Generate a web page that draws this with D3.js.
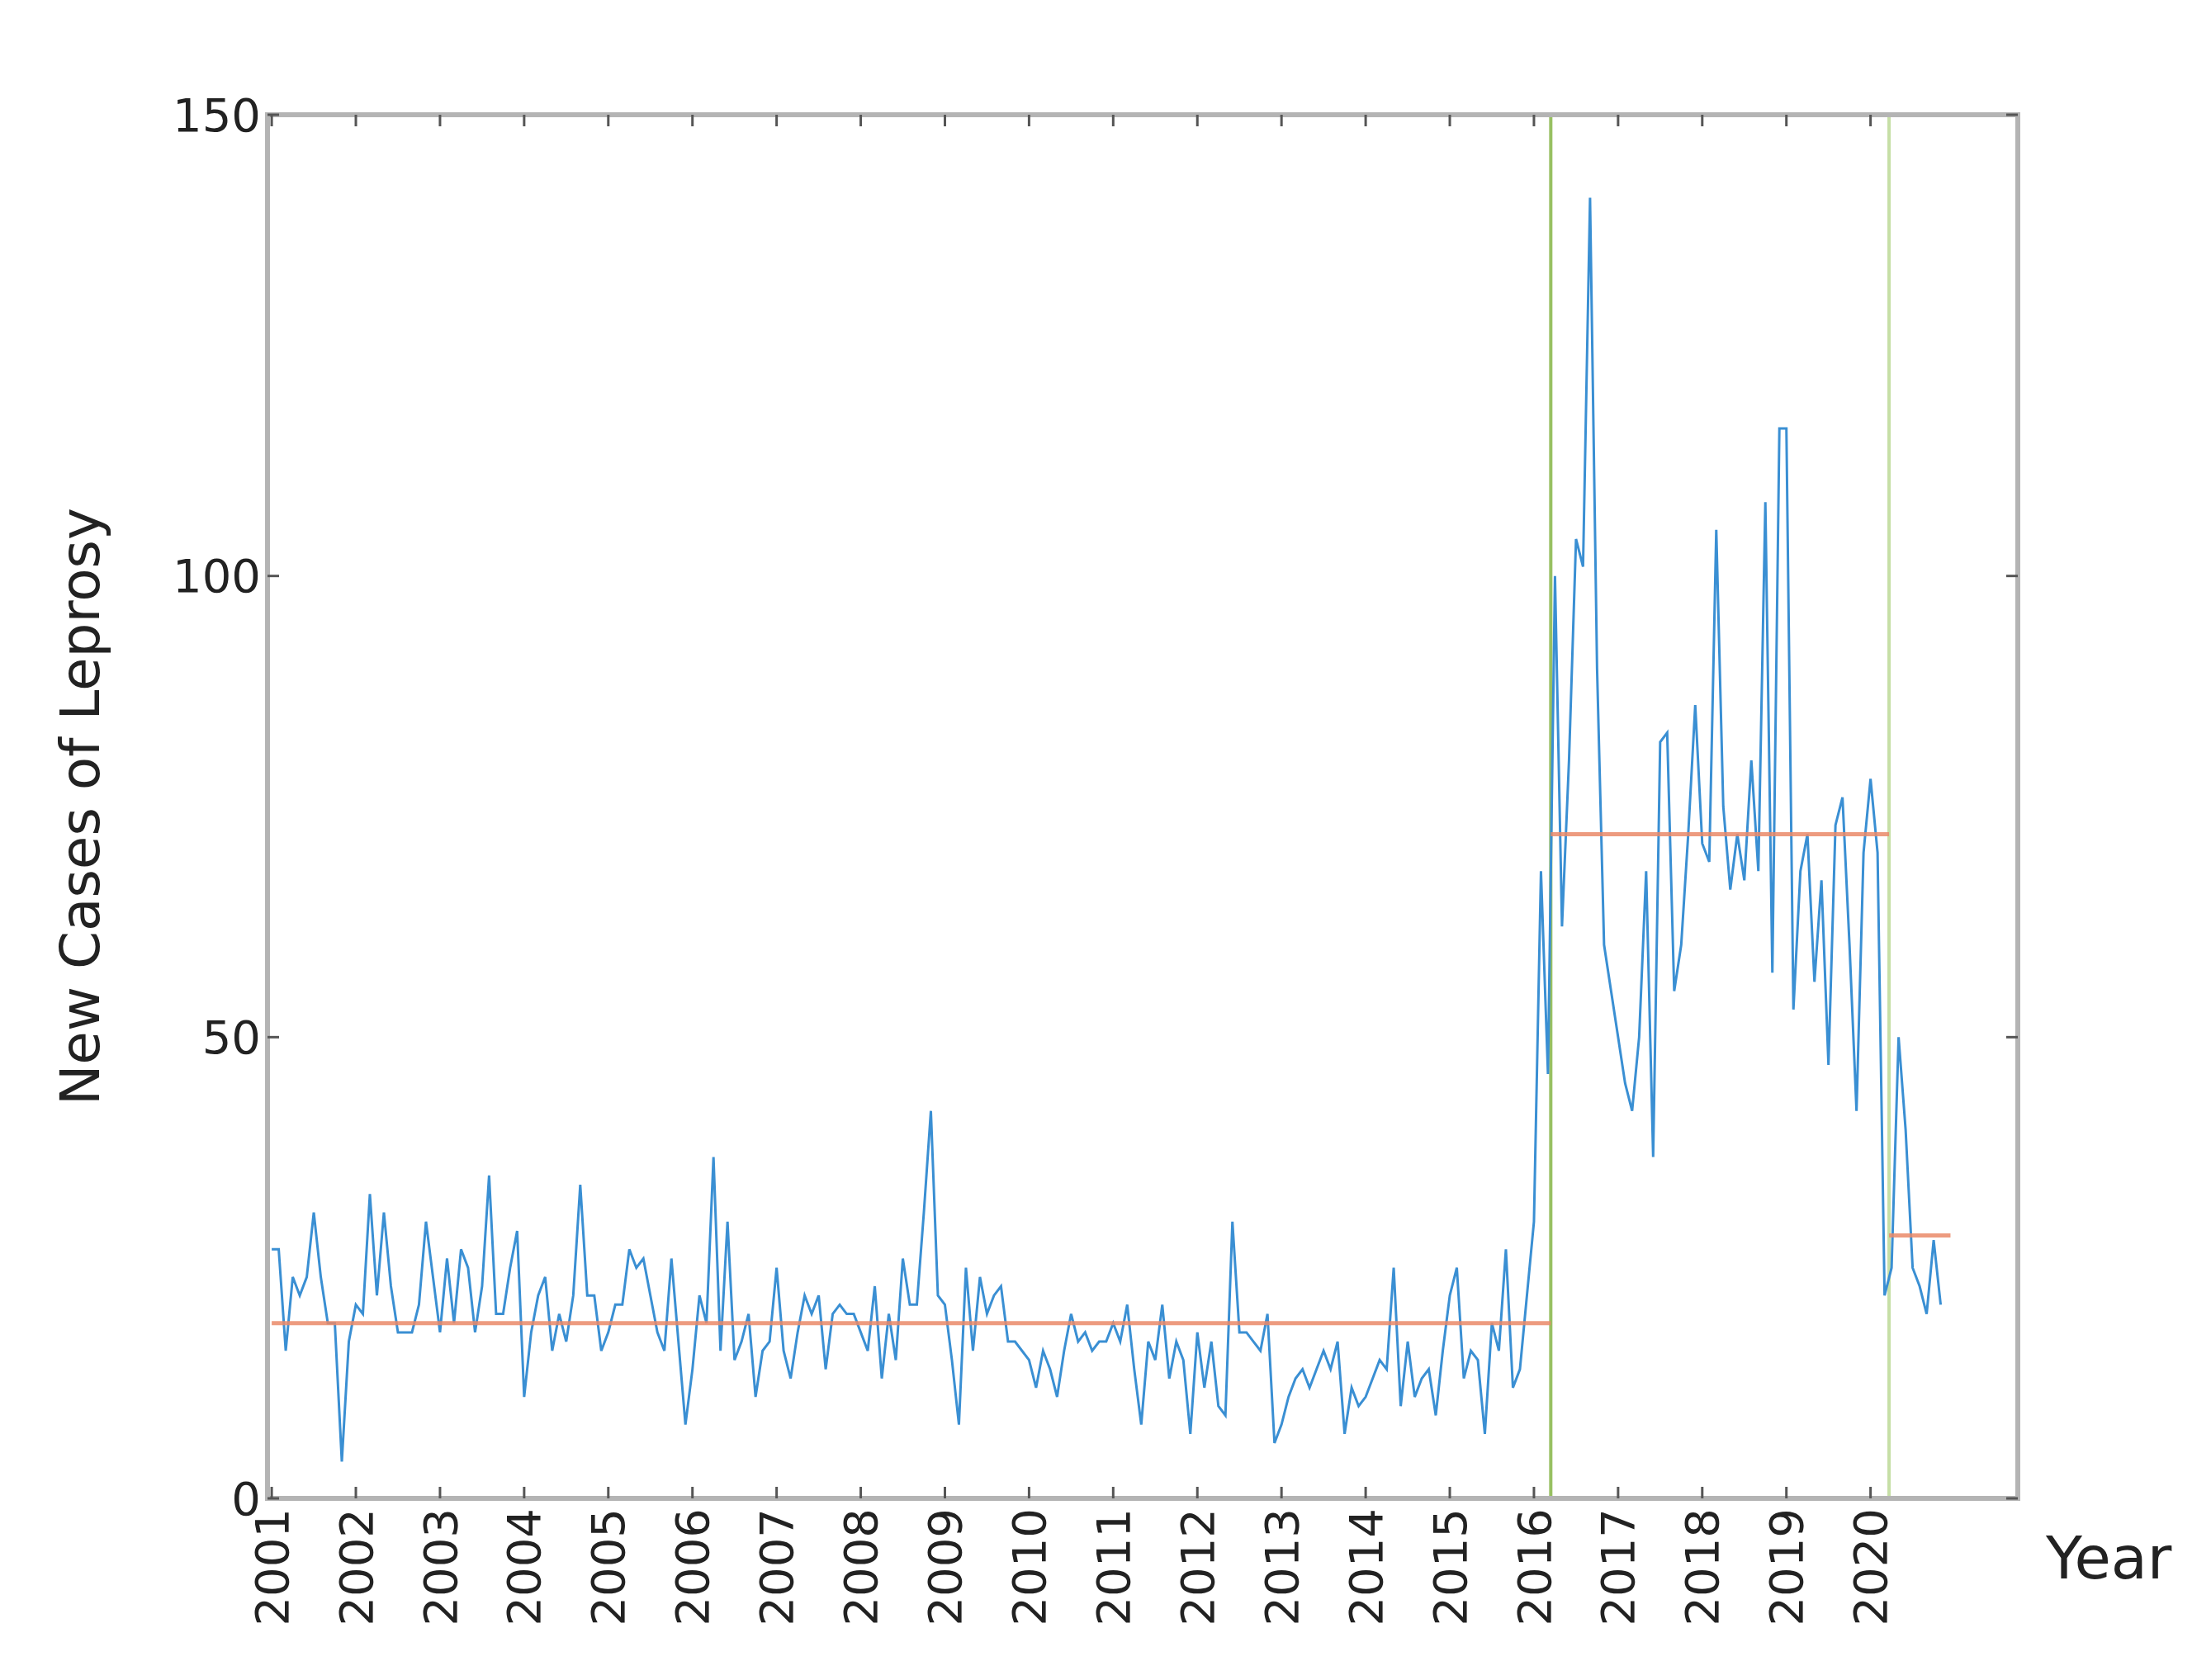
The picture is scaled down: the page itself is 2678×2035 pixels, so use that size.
<!DOCTYPE html>
<html>
<head>
<meta charset="utf-8">
<script src="https://cdn.jsdelivr.net/npm/d3@7"></script>
<style>
  body { margin: 0; background: #fff; }
  text { font-family: "DejaVu Sans", sans-serif; fill: #222; }
</style>
</head>
<body>
<svg id="chart"></svg>
<script>
// monthly new cases, Jan 2001 .. Nov 2020
var cases2001to2015 = [
  27,27,16,24,22,24,31,24,19,19,4,17,
  21,20,33,22,31,23,18,18,18,21,30,24,
  18,26,19,27,25,18,23,35,20,20,25,29,
  11,18,22,24,16,20,17,22,34,22,22,16,
  18,21,21,27,25,26,22,18,16,26,17,8,
  14,22,19,37,16,30,15,17,20,11,16,17,
  25,16,13,18,22,20,22,14,20,21,20,20,
  18,16,23,13,20,15,26,21,21,31,42,22,
  21,15,8,25,16,24,20,22,23,17,17,16,
  15,12,16,14,11,16,20,17,18,16,17,17,
  19,17,21,14,8,17,15,21,13,17,15,7,
  18,12,17,10,9,30,18,18,17,16,20,6,
  8,11,13,14,12,14,16,14,17,7,12,10,
  11,13,15,14,25,10,17,11,13,14,9,16,
  22,25,13,16,15,7,19,16,27,12,14,22
];
var cases2016to2020 = [
  30,68,46,100,62,80,104,101,141,90,60,55,
  50,45,42,50,68,37,82,83,55,60,72,86,
  71,69,105,75,66,72,67,80,68,108,57,116,
  116,53,68,72,56,67,47,73,76,60,42,70,
  78,70,22,25,50,40,25,23,20,28,21
];
var cases = cases2001to2015.concat(cases2016to2020);

// change points and segment means
var breakYears = [2016.2, 2020.22];
var segStart = [2001, 2016.2, 2020.22];
var segEnd = [2016.2, 2020.22, 2020.95];
var segMean = [19, 72, 28.5];

var yTicks = [0, 50, 100, 150];
var xTicks = d3.range(2001, 2021);

var width = 2678;
var height = 2035;
var pLeft = 324, pRight = 2444, pTop = 139, pBottom = 1815;

var svg = d3.select('#chart').attr('width', width).attr('height', height);

var x = d3.scaleLinear().domain([2000.95, 2021.75]).range([pLeft, pRight]);
var y = d3.scaleLinear().domain([0, 150]).range([pBottom, pTop]);

var points = cases.map((v, i) => ({ t: 2001 + i / 12, v: v }));

// change point lines
svg.selectAll('.brk').data(breakYears).enter().append('line')
  .attr('x1', d => x(d)).attr('x2', d => x(d))
  .attr('y1', pTop).attr('y2', pBottom)
  .attr('stroke', (d, i) => i === 0 ? '#98c062' : '#c6dfa6')
  .attr('stroke-width', 4);

// data line
svg.append('path')
  .datum(points)
  .attr('fill', 'none')
  .attr('stroke', '#3a8fd3')
  .attr('stroke-width', 3)
  .attr('d', d3.line().x(d => x(d.t)).y(d => y(d.v)));

// segment means
svg.selectAll('.mean').data(segMean).enter().append('line')
  .attr('x1', (d, i) => x(segStart[i])).attr('x2', (d, i) => x(segEnd[i]))
  .attr('y1', d => y(d)).attr('y2', d => y(d))
  .attr('stroke', '#ea8a68').attr('stroke-opacity', 0.85)
  .attr('stroke-width', 5);

// box
svg.append('rect')
  .attr('x', pLeft).attr('y', pTop)
  .attr('width', pRight - pLeft).attr('height', pBottom - pTop)
  .attr('fill', 'none').attr('stroke', '#b4b4b4').attr('stroke-width', 6);

// ticks, inward on all sides
var tk = 14;
svg.selectAll('.xtb').data(xTicks).enter().append('line')
  .attr('x1', d => x(d)).attr('x2', d => x(d))
  .attr('y1', pBottom).attr('y2', pBottom - tk)
  .attr('stroke', '#555').attr('stroke-width', 3);
svg.selectAll('.xtt').data(xTicks).enter().append('line')
  .attr('x1', d => x(d)).attr('x2', d => x(d))
  .attr('y1', pTop).attr('y2', pTop + tk)
  .attr('stroke', '#555').attr('stroke-width', 3);
svg.selectAll('.ytl').data(yTicks).enter().append('line')
  .attr('x1', pLeft).attr('x2', pLeft + tk)
  .attr('y1', d => y(d)).attr('y2', d => y(d))
  .attr('stroke', '#555').attr('stroke-width', 3);
svg.selectAll('.ytr').data(yTicks).enter().append('line')
  .attr('x1', pRight).attr('x2', pRight - tk)
  .attr('y1', d => y(d)).attr('y2', d => y(d))
  .attr('stroke', '#555').attr('stroke-width', 3);

// tick labels
svg.selectAll('.ylab').data(yTicks).enter().append('text')
  .attr('x', pLeft - 8).attr('y', d => y(d))
  .attr('dy', '0.35em')
  .attr('text-anchor', 'end')
  .style('font-size', '56px')
  .text(d => d);

svg.selectAll('.xlab').data(xTicks).enter().append('text')
  .attr('transform', d => 'translate(' + x(d) + ',' + (pBottom + 12) + ') rotate(-90)')
  .attr('dy', '0.35em')
  .attr('text-anchor', 'end')
  .style('font-size', '56px')
  .text(d => d);

// axis titles
svg.append('text')
  .attr('transform', 'translate(120,' + (pTop + pBottom) / 2 + ') rotate(-90)')
  .attr('text-anchor', 'middle')
  .style('font-size', '66px')
  .text('New Cases of Leprosy');

svg.append('text')
  .attr('x', 2478).attr('y', 1912)
  .style('font-size', '72px')
  .text('Year');
</script>
</body>
</html>
